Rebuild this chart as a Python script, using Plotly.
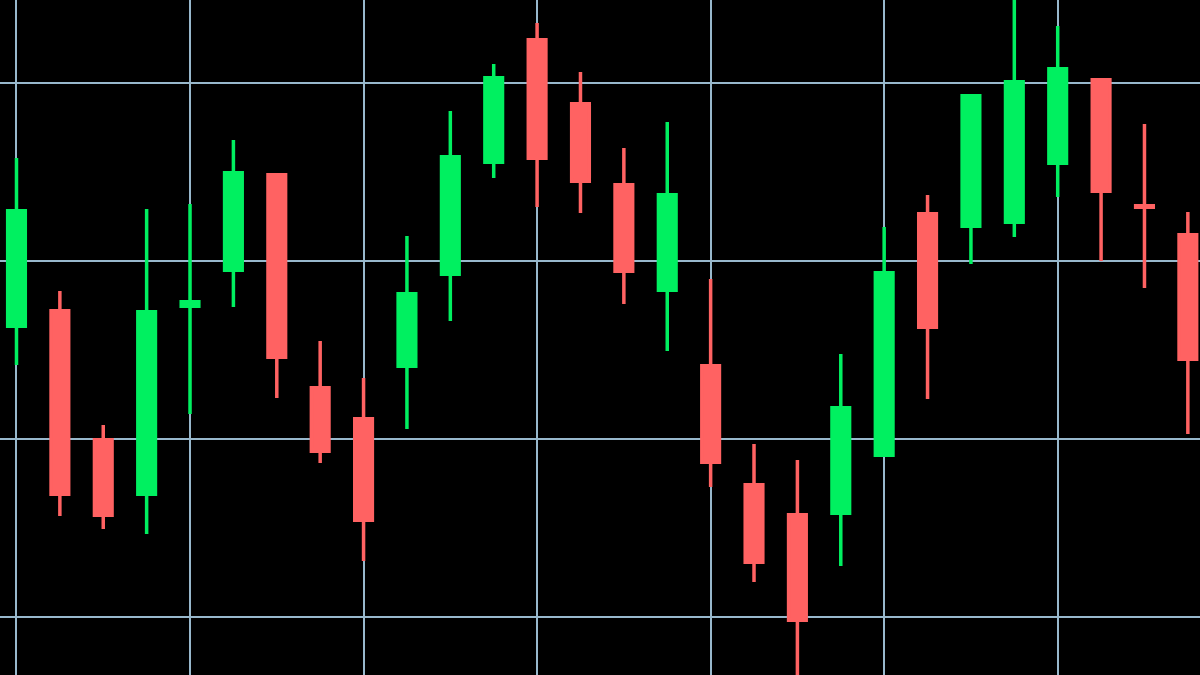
import plotly.graph_objects as go

# Candle index (periods)
periods = list(range(28))

open_ = [116.33, 117.21, 109.96, 106.90, 117.46, 119.48, 124.85, 112.88, 111.14, 114.09,
         119.26, 125.55, 132.43, 128.83, 124.28, 118.36, 114.12, 107.43, 105.74, 105.83,
         109.09, 122.65, 121.95, 122.18, 125.49, 130.18, 123.10, 121.47]
high = [125.79, 118.31, 110.79, 122.92, 123.20, 126.80, 124.85, 115.51, 113.43, 121.40,
        128.43, 131.07, 133.37, 130.62, 126.35, 127.81, 118.99, 109.72, 108.82, 114.78,
        121.91, 123.71, 129.28, 134.94, 133.20, 130.18, 127.70, 122.75]
low = [114.16, 105.67, 104.94, 104.66, 111.40, 117.42, 112.30, 108.65, 103.15, 110.56,
       116.63, 124.66, 123.03, 122.70, 117.58, 114.94, 107.30, 101.97, 96.20, 102.87,
       109.09, 112.25, 119.83, 121.35, 123.60, 120.00, 118.48, 110.28]
close = [122.82, 106.90, 105.72, 117.15, 117.71, 124.96, 114.59, 109.31, 105.44, 118.16,
         125.86, 130.29, 125.77, 124.48, 119.42, 123.72, 108.69, 103.08, 99.82, 111.76,
         119.34, 116.28, 129.28, 130.07, 130.80, 123.92, 123.02, 114.48]

GREEN = "#00F060"
RED = "#FF6262"
GRID = "#98B8CC"

fig = go.Figure(go.Candlestick(
    x=periods, open=open_, high=high, low=low, close=close,
    increasing=dict(line=dict(color=GREEN, width=3.5), fillcolor=GREEN),
    decreasing=dict(line=dict(color=RED, width=3.5), fillcolor=RED),
    whiskerwidth=0,
    hoverinfo="skip",
))

fig.update_layout(
    width=1200, height=675,
    margin=dict(l=0, r=0, t=0, b=0),
    paper_bgcolor="black", plot_bgcolor="black",
    showlegend=False,
    boxgap=0.42,
    xaxis=dict(range=[-0.38, 27.28], tick0=0, dtick=4, showgrid=True,
               gridcolor=GRID, gridwidth=1.5, showticklabels=False,
               zeroline=False, showline=False, ticks="",
               rangeslider=dict(visible=False)),
    yaxis=dict(range=[96.742, 134.663], tick0=100, dtick=10, showgrid=True,
               gridcolor=GRID, gridwidth=1.5, showticklabels=False,
               zeroline=False, showline=False, ticks=""),
)

fig.write_html(
    "out.html",
    config={"displayModeBar": False},
    post_script="document.body.style.margin='0';document.body.style.padding='0';"
                "document.body.style.background='black';",
)
